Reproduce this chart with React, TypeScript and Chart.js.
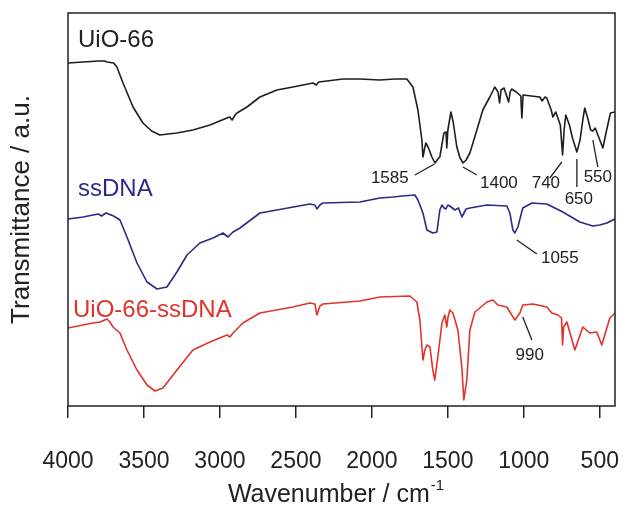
import { useEffect, useRef } from "react";
import { Chart, registerables } from "chart.js";

Chart.register(...registerables);

const FONT = "'Liberation Sans', Arial, Helvetica, sans-serif";
const INK = "#222222";

// Wavenumber axis ticks (cm-1)
const xTicks = [4000, 3500, 3000, 2500, 2000, 1500, 1000, 500];

// UiO-66 spectrum (wavenumber in cm-1, transmittance offset in a.u.)
const uioWavenumber = [
  4000, 3900, 3800, 3760, 3743, 3700, 3678, 3638, 3572, 3507, 3450, 3395, 3340, 3283, 3178, 3066,
  2954, 2935, 2920, 2900, 2888, 2822, 2737, 2625, 2520, 2388, 2366, 2350, 2190, 2079, 1947, 1850,
  1770, 1730, 1697, 1671, 1664, 1655, 1645, 1630, 1605, 1585, 1560, 1553, 1526, 1512, 1507, 1500,
  1480, 1465, 1441, 1420, 1400, 1380, 1355, 1309, 1270, 1224, 1191, 1170, 1160, 1150, 1130, 1100,
  1090, 1080, 1050, 1020, 1013, 1005, 950, 895, 880, 860, 849, 820, 809, 790, 760, 745,
  735, 724, 700, 680, 651, 630, 610, 599, 580, 560, 546, 530, 505, 480, 455, 430, 400,
];
const uioTransmittance = [
  34.3, 34.4, 34.5, 34.5, 34.4, 34.3, 33.9, 32.3, 29.9, 28.3, 27.5, 27.1, 27.2, 27.3, 27.6, 28.1,
  28.8, 28.9, 28.6, 29.1, 29.3, 29.9, 30.9, 31.6, 31.9, 32.3, 32.1, 32.4, 32.7, 32.7, 32.6, 32.7,
  32.7, 31.9, 29.6, 26.6, 24.9, 25.6, 26.3, 25.9, 24.9, 24.3, 24.8, 24.9, 27.3, 27.4, 25.8, 27.6,
  29.4, 28.4, 25.9, 24.8, 24.3, 24.6, 25.3, 27.6, 29.6, 30.9, 31.9, 31.4, 30.3, 31.6, 31.8, 30.4,
  31.4, 31.7, 31.4, 31.0, 28.8, 31.1, 31.0, 30.9, 30.5, 30.9, 30.8, 29.6, 28.9, 29.4, 28.1, 25.1,
  27.6, 29.1, 28.1, 26.8, 25.4, 26.6, 28.8, 29.8, 28.8, 27.6, 27.5, 27.8, 26.8, 25.8, 27.6, 29.3, 29.4,
];

// ssDNA spectrum
const dnaWavenumber = [
  4000, 3900, 3836, 3800, 3780, 3750, 3700, 3658, 3612, 3546, 3480, 3414, 3349, 3283, 3217, 3132,
  3046, 2980, 2947, 2914, 2868, 2737, 2625, 2408, 2375, 2362, 2342, 2322, 2079, 1947, 1862, 1800,
  1717, 1697, 1664, 1638, 1599, 1572, 1553, 1539, 1525, 1513, 1500, 1487, 1454, 1430, 1408, 1380,
  1355, 1243, 1112, 1092, 1072, 1059, 1039, 1007, 947, 849, 743, 632, 546, 500, 454, 414, 400,
];
const dnaTransmittance = [
  18.7, 18.9, 19.1, 19.2, 19.0, 19.3, 19.0, 18.6, 16.9, 14.3, 12.4, 11.7, 11.9, 13.4, 15.1, 16.3,
  16.8, 17.3, 16.9, 17.4, 17.8, 19.3, 19.6, 20.2, 20.1, 19.7, 20.1, 20.3, 20.4, 20.8, 20.9, 21.0,
  21.1, 20.6, 19.3, 17.6, 17.3, 17.4, 19.6, 20.1, 19.8, 19.7, 20.1, 20.0, 19.6, 19.8, 18.9, 19.7,
  19.8, 20.1, 20.0, 19.3, 17.6, 17.3, 17.9, 19.8, 20.3, 20.2, 19.4, 18.4, 18.0, 18.1, 18.3, 18.6, 18.7,
];

// UiO-66-ssDNA spectrum
const hybridWavenumber = [
  4000, 3836, 3789, 3743, 3724, 3704, 3658, 3612, 3546, 3480, 3428, 3375, 3283, 3178, 3066, 2954,
  2934, 2914, 2849, 2737, 2520, 2408, 2375, 2362, 2342, 2322, 2079, 1947, 1750, 1704, 1684, 1664,
  1651, 1638, 1618, 1599, 1586, 1566, 1539, 1520, 1507, 1500, 1487, 1467, 1434, 1408, 1395, 1375,
  1355, 1322, 1243, 1204, 1171, 1112, 1059, 1026, 1007, 941, 849, 816, 776, 752, 745, 738,
  717, 664, 612, 566, 520, 487, 434, 400,
];
const hybridTransmittance = [
  7.8, 8.3, 8.4, 8.7, 8.4, 7.9, 7.3, 5.6, 3.6, 2.1, 1.5, 1.8, 3.6, 5.6, 6.4, 7.1,
  6.9, 7.3, 8.3, 9.3, 9.9, 10.3, 10.2, 9.1, 10.0, 10.2, 10.5, 10.9, 11.0, 10.4, 8.6, 4.6,
  5.6, 6.1, 5.9, 3.6, 2.6, 4.9, 8.3, 9.1, 7.9, 8.8, 9.6, 9.3, 7.6, 3.9, 0.6, 2.6,
  7.6, 9.4, 10.4, 10.6, 10.1, 9.9, 8.6, 9.3, 10.1, 10.2, 9.9, 9.3, 9.1, 8.8, 6.1, 7.9,
  8.4, 5.6, 7.9, 7.3, 7.4, 6.1, 8.8, 9.3,
];

const seriesNames = ["UiO-66", "ssDNA", "UiO-66-ssDNA"];
const seriesColors = ["#1e1e1e", "#2b2a86", "#e0332b"];

// Where each series name sits (left edge, wavenumber / a.u.)
const nameAnchors: [number, number][] = [
  [3934, 36.6],
  [3934, 21.7],
  [3967, 9.6],
];

// Band assignments: text position and leader line, in wavenumber / a.u.
const bandLabels = [
  { text: "1585", at: [1882, 22.8], from: [1717, 23.1], to: [1588, 24.2] },
  { text: "1400", at: [1164, 22.3], from: [1401, 23.9], to: [1309, 23.1] },
  { text: "740", at: [855, 22.3], from: [829, 22.8], to: [750, 24.4] },
  { text: "650", at: [638, 20.7], from: [651, 24.7], to: [651, 21.9] },
  { text: "550", at: [513, 22.9], from: [546, 26.6], to: [513, 23.9] },
  { text: "1055", at: [763, 14.8], from: [1046, 16.6], to: [914, 15.2] },
  { text: "990", at: [961, 5.1], from: [1007, 8.9], to: [947, 6.6] },
];

const toPoints = (xs: number[], ys: number[]) => xs.map((x, i) => ({ x, y: ys[i] }));

const decorations = {
  id: "decorations",
  afterDraw(chart: any) {
    const { ctx, chartArea: a, scales } = chart;
    const sx = scales.x;
    const sy = scales.y;
    const px = (w: number) => sx.getPixelForValue(w);
    const py = (v: number) => sy.getPixelForValue(v);

    ctx.save();

    // plot frame
    ctx.strokeStyle = INK;
    ctx.lineWidth = 1.5;
    ctx.strokeRect(a.left, a.top, a.right - a.left, a.bottom - a.top);

    // series names
    ctx.textBaseline = "middle";
    ctx.textAlign = "left";
    ctx.font = `24px ${FONT}`;
    seriesNames.forEach((name, i) => {
      ctx.fillStyle = i === 0 ? INK : seriesColors[i];
      ctx.fillText(name, px(nameAnchors[i][0]), py(nameAnchors[i][1]));
    });

    // band labels with leader lines
    ctx.font = `17px ${FONT}`;
    ctx.fillStyle = INK;
    ctx.strokeStyle = INK;
    ctx.lineWidth = 1.3;
    ctx.textAlign = "center";
    bandLabels.forEach((b) => {
      ctx.beginPath();
      ctx.moveTo(px(b.from[0]), py(b.from[1]));
      ctx.lineTo(px(b.to[0]), py(b.to[1]));
      ctx.stroke();
      ctx.fillText(b.text, px(b.at[0]), py(b.at[1]));
    });

    // x-axis title with superscript
    const main = "Wavenumber / cm";
    const sup = "-1";
    ctx.textBaseline = "alphabetic";
    ctx.textAlign = "left";
    ctx.font = `25px ${FONT}`;
    const wMain = ctx.measureText(main).width;
    ctx.font = `15px ${FONT}`;
    const wSup = ctx.measureText(sup).width;
    const cx = (a.left + a.right) / 2 - 6;
    const startX = cx - (wMain + wSup) / 2;
    ctx.font = `25px ${FONT}`;
    ctx.fillText(main, startX, 502);
    ctx.font = `15px ${FONT}`;
    ctx.fillText(sup, startX + wMain + 1, 490);

    // y-axis title
    ctx.translate(22, (a.top + a.bottom) / 2);
    ctx.rotate(-Math.PI / 2);
    ctx.textAlign = "center";
    ctx.textBaseline = "middle";
    ctx.font = `26px ${FONT}`;
    ctx.fillText("Transmittance / a.u.", 0, 0);

    ctx.restore();
  },
};

export default function App() {
  const canvasRef = useRef<HTMLCanvasElement | null>(null);

  useEffect(() => {
    const canvas = canvasRef.current;
    if (!canvas) return;
    const spectra = [
      toPoints(uioWavenumber, uioTransmittance),
      toPoints(dnaWavenumber, dnaTransmittance),
      toPoints(hybridWavenumber, hybridTransmittance),
    ];
    const chart = new Chart(canvas, {
      type: "line",
      data: {
        datasets: spectra.map((pts, i) => ({
          label: seriesNames[i],
          data: pts,
          borderColor: seriesColors[i],
          borderWidth: 1.6,
          pointRadius: 0,
          tension: 0,
          borderJoinStyle: "round" as const,
          fill: false,
        })),
      },
      options: {
        animation: false,
        responsive: false,
        devicePixelRatio: 1,
        layout: { padding: { left: 68, right: 12, top: 13, bottom: 0 } },
        plugins: { legend: { display: false }, tooltip: { enabled: false } },
        scales: {
          x: {
            type: "linear",
            reverse: true,
            min: 400,
            max: 4000,
            afterBuildTicks: (scale: any) => {
              scale.ticks = xTicks.map((value) => ({ value }));
            },
            afterFit: (scale: any) => {
              scale.height = 106;
              scale.paddingLeft = 0;
              scale.paddingRight = 0;
            },
            grid: {
              display: true,
              drawOnChartArea: false,
              drawTicks: true,
              tickLength: 12,
              color: INK,
              lineWidth: 1.5,
            },
            border: { display: false },
            ticks: {
              autoSkip: false,
              maxRotation: 0,
              padding: 30,
              color: INK,
              font: { family: FONT, size: 23 },
              callback: (v: any) => String(v),
            },
          },
          y: {
            display: false,
            min: 0,
            max: 39.3,
          },
        },
      },
      plugins: [decorations],
    });
    return () => chart.destroy();
  }, []);

  return (
    <div style={{ position: "fixed", left: 0, top: 0, width: 627, height: 512, background: "#fff" }}>
      <canvas ref={canvasRef} width={627} height={512} style={{ display: "block" }} />
    </div>
  );
}
